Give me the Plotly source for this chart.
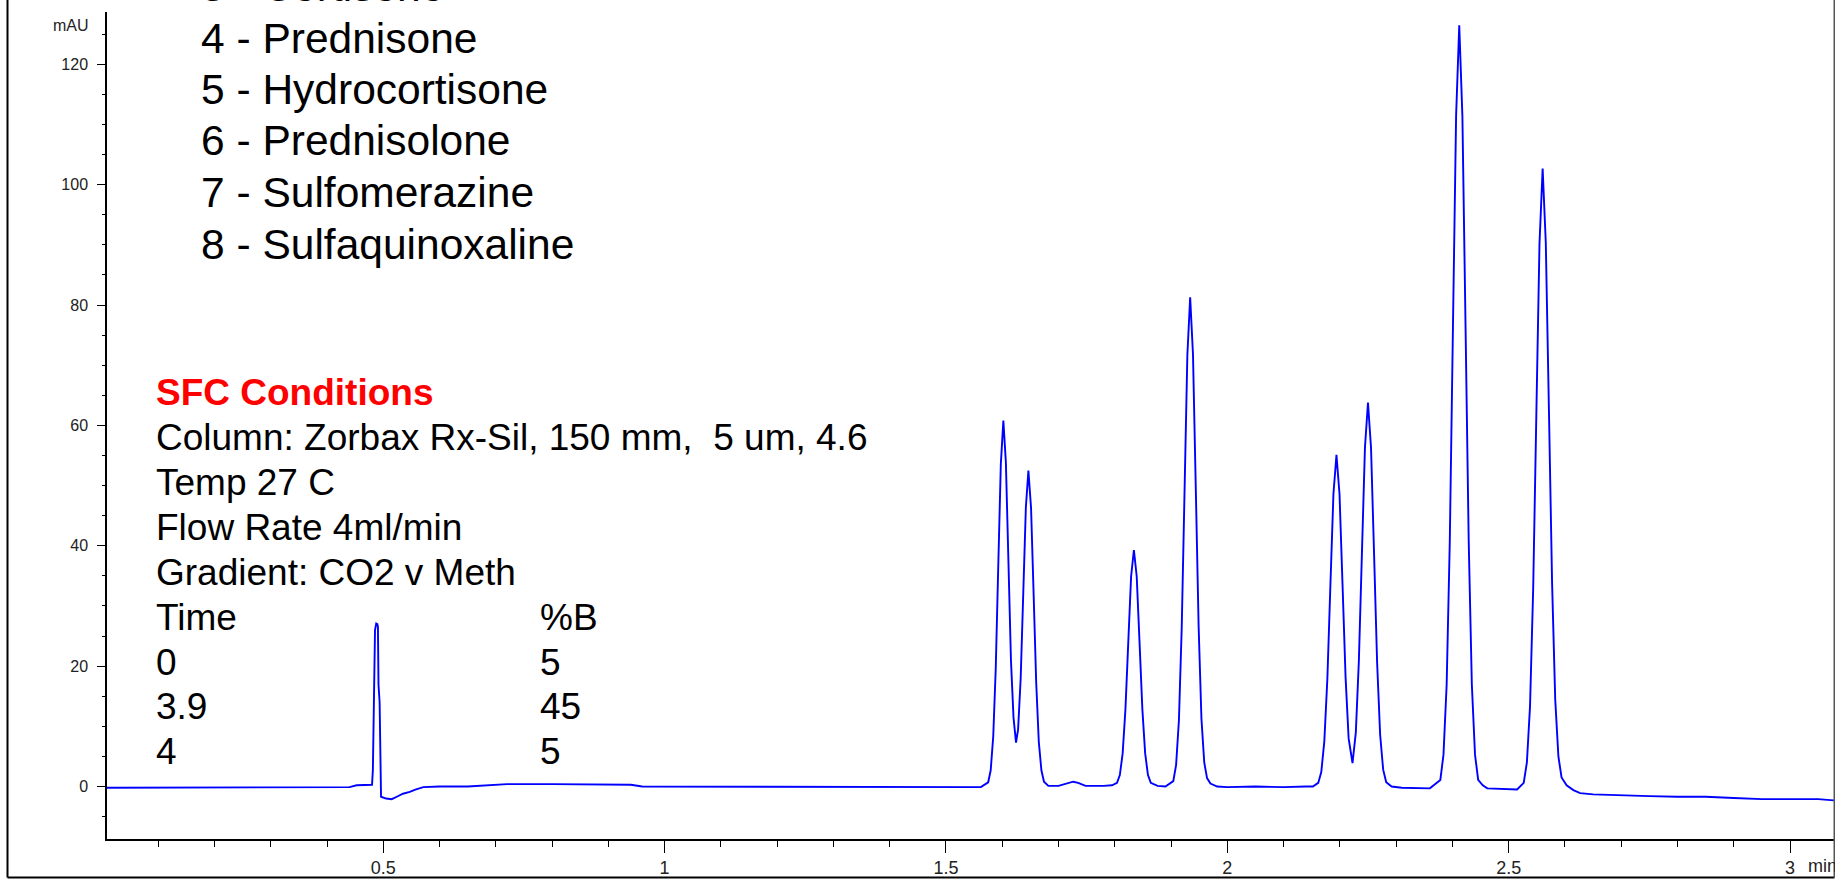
import plotly.graph_objects as go

# ---------------- data ----------------
time_min = [
    0.009, 0.05, 0.10, 0.15, 0.20, 0.25, 0.30, 0.35, 0.40, 0.440, 0.4527, 0.4675, 0.4800,
    0.4815, 0.4853, 0.4875, 0.4895, 0.4905, 0.4915, 0.4935, 0.4948, 0.4960, 0.505, 0.515,
    0.524, 0.535, 0.547, 0.557, 0.571, 0.60, 0.65, 0.70, 0.72, 0.80, 0.90, 0.94, 0.96,
    1.05, 1.15, 1.25, 1.35, 1.45, 1.55, 1.562,
    1.575, 1.5795, 1.584, 1.5885, 1.593, 1.5975, 1.602, 1.6065, 1.611, 1.6155, 1.620,
    1.6245, 1.6282, 1.6328, 1.6374, 1.642, 1.6465, 1.6512, 1.6558, 1.6604, 1.665, 1.6696,
    1.6742, 1.682, 1.700, 1.716, 1.726, 1.735, 1.748, 1.780, 1.795,
    1.804, 1.809, 1.814, 1.819, 1.824, 1.829, 1.834, 1.839, 1.844, 1.849, 1.854, 1.859,
    1.864, 1.876, 1.890,
    1.904, 1.909, 1.914, 1.919, 1.924, 1.929, 1.934, 1.939, 1.944, 1.949, 1.954, 1.959,
    1.964, 1.970, 1.982, 2.00, 2.05, 2.10, 2.14,
    2.152, 2.1616, 2.167, 2.1724, 2.1778, 2.1832, 2.1886, 2.194, 2.1994, 2.2048, 2.2102,
    2.2156, 2.2225, 2.2284, 2.2338, 2.2392, 2.2446, 2.250, 2.2554, 2.2608, 2.2662, 2.2716,
    2.277, 2.2824, 2.292, 2.31, 2.34, 2.36,
    2.3786, 2.3842, 2.3898, 2.3954, 2.401, 2.4066, 2.4122, 2.4178, 2.4234, 2.429, 2.4346,
    2.4402, 2.4458, 2.454, 2.462, 2.48, 2.50, 2.515,
    2.5268, 2.5324, 2.538, 2.5436, 2.5492, 2.5548, 2.5604, 2.566, 2.5716, 2.5772, 2.5828,
    2.5884, 2.594, 2.603, 2.615, 2.627, 2.65, 2.70, 2.75, 2.80, 2.85, 2.90, 2.95, 3.00,
    3.05, 3.078,
]
absorbance_mau = [
    -0.2, -0.2, -0.2, -0.2, -0.2, -0.2, -0.2, -0.2, -0.1, -0.1, 0.2, 0.2, 0.3,
    2.7, 26.0, 27.1, 27.0, 26.5, 16.9, 14.0, 0.0, -1.7, -2.0, -2.1,
    -1.7, -1.2, -0.9, -0.5, -0.1, 0.0, 0.0, 0.2, 0.4, 0.4, 0.3, 0.3, 0.0,
    0.0, 0.0, -0.1, -0.1, -0.1, -0.1, -0.1,
    0.7, 2.7, 8.3, 19.7, 36.9, 53.6, 60.8, 53.8, 37.4, 21.0, 11.5,
    7.3, 9.5, 18.0, 32.2, 46.4, 52.5, 46.3, 31.9, 17.2, 7.4, 2.7,
    0.8, 0.1, 0.1, 0.6, 0.8, 0.6, 0.1, 0.1, 0.2,
    0.6, 1.9, 5.5, 12.9, 24.0, 34.9, 39.3, 34.9, 24.0, 12.9, 5.5, 1.9,
    0.6, 0.1, 0.0,
    0.9, 3.6, 11.0, 26.4, 49.3, 71.7, 81.3, 71.8, 49.5, 26.7, 11.3, 4.0,
    1.4, 0.5, 0.0, -0.1, 0.0, -0.1, 0.0,
    0.0, 0.6, 2.4, 7.5, 17.9, 33.4, 48.6, 55.1, 48.6, 33.5, 18.1,
    8.0, 3.9, 9.0, 20.9, 38.7, 56.3, 63.8, 56.3, 38.7, 20.7, 8.6,
    2.8, 0.7, 0.0, -0.2, -0.3, -0.3,
    1.1, 5.3, 16.9, 40.8, 76.4, 111.4, 126.5, 111.4, 76.4, 40.8, 16.9,
    5.3, 1.1, 0.2, -0.3, -0.4, -0.5, -0.5,
    0.6, 4.0, 13.4, 32.9, 61.8, 90.2, 102.7, 90.4, 62.5, 33.8, 14.4,
    5.0, 1.5, 0.2, -0.6, -1.1, -1.3, -1.5, -1.6, -1.7, -1.7, -1.9, -2.1, -2.1,
    -2.1, -2.3,
]

compound_labels = [
    "3 - Cortisone",
    "4 - Prednisone",
    "5 - Hydrocortisone",
    "6 - Prednisolone",
    "7 - Sulfomerazine",
    "8 - Sulfaquinoxaline",
]
conditions_title = "SFC Conditions"
conditions_lines = [
    "Column: Zorbax Rx-Sil, 150 mm,  5 um, 4.6",
    "Temp 27 C",
    "Flow Rate 4ml/min",
    "Gradient: CO2 v Meth",
]
gradient_time = ["Time", "0", "3.9", "4"]
gradient_pct_b = ["%B", "5", "45", "5"]

y_unit_label = "mAU"
x_unit_label = "min"

# ---------------- layout geometry (pixels) ----------------
W, H = 1835, 879
ML, MR, MT, MB = 107, 1, 12, 40
PL, PR, PT, PB = ML, W - MR, MT, H - MB

FONT = "Liberation Sans, Arial, Helvetica, sans-serif"


def px_x(x):
    return (x - PL) / (PR - PL)


def px_y(y):
    return (PB - y) / (PB - PT)


fig = go.Figure()
fig.add_trace(
    go.Scatter(
        x=time_min,
        y=absorbance_mau,
        mode="lines",
        line=dict(color="#0000FF", width=1.9),
        hoverinfo="skip",
    )
)

annotations = []

# compound list (top); the first line is cut off by the top edge, as in the source
list_x = 199
list_centers = [-14.0, 38.0, 89.5, 141.0, 192.5, 244.0]
for txt, yc in zip(compound_labels, list_centers):
    annotations.append(dict(
        text=txt, x=px_x(list_x), y=px_y(yc),
        xref="paper", yref="paper", xanchor="left", yanchor="middle",
        showarrow=False, font=dict(family=FONT, size=42.5, color="#000000"),
    ))

# SFC conditions block
blk_x, col2_x = 153.5, 537.5
blk_y0, blk_dy = 392.3, 44.95
annotations.append(dict(
    text="<b>" + conditions_title + "</b>", x=px_x(blk_x), y=px_y(blk_y0),
    xref="paper", yref="paper", xanchor="left", yanchor="middle",
    showarrow=False, font=dict(family=FONT, size=37, color="#FF0000"),
))
for i, txt in enumerate(conditions_lines):
    annotations.append(dict(
        text=txt, x=px_x(blk_x), y=px_y(blk_y0 + (i + 1) * blk_dy),
        xref="paper", yref="paper", xanchor="left", yanchor="middle",
        showarrow=False, font=dict(family=FONT, size=37, color="#000000"),
    ))
row0 = len(conditions_lines) + 1
for i, (t_txt, b_txt) in enumerate(zip(gradient_time, gradient_pct_b)):
    yy = px_y(blk_y0 + (row0 + i) * blk_dy)
    annotations.append(dict(
        text=t_txt, x=px_x(blk_x), y=yy, xref="paper", yref="paper",
        xanchor="left", yanchor="middle", showarrow=False,
        font=dict(family=FONT, size=37, color="#000000"),
    ))
    annotations.append(dict(
        text=b_txt, x=px_x(col2_x), y=yy, xref="paper", yref="paper",
        xanchor="left", yanchor="middle", showarrow=False,
        font=dict(family=FONT, size=37, color="#000000"),
    ))

# axis unit labels
annotations.append(dict(
    text=y_unit_label, x=px_x(91), y=px_y(25), xref="paper", yref="paper",
    xanchor="right", yanchor="middle", showarrow=False,
    font=dict(family=FONT, size=16, color="#222222"),
))
annotations.append(dict(
    text=x_unit_label, x=px_x(1806), y=px_y(866), xref="paper", yref="paper",
    xanchor="left", yanchor="middle", showarrow=False,
    font=dict(family=FONT, size=18, color="#222222"),
))

shapes = [
    # outer frame: left, bottom, right
    dict(type="line", xref="paper", yref="paper", x0=px_x(7.5), x1=px_x(7.5),
         y0=px_y(-5), y1=px_y(877.5), line=dict(color="#000000", width=2)),
    dict(type="line", xref="paper", yref="paper", x0=px_x(7.5), x1=px_x(1834.5),
         y0=px_y(877.5), y1=px_y(877.5), line=dict(color="#000000", width=2)),
    dict(type="line", xref="paper", yref="paper", x0=px_x(1834.5), x1=px_x(1834.5),
         y0=px_y(-5), y1=px_y(877.5), line=dict(color="#555555", width=2)),
]

fig.update_layout(
    width=W, height=H,
    margin=dict(l=ML, r=MR, t=MT, b=MB, pad=0),
    paper_bgcolor="white", plot_bgcolor="white",
    showlegend=False,
    annotations=annotations,
    shapes=shapes,
    xaxis=dict(
        range=[0.009, 3.0782], showgrid=False, zeroline=False,
        showline=True, linecolor="#000000", linewidth=1.5,
        ticks="outside", ticklen=12, tickwidth=1.2, tickcolor="#000000",
        tick0=0, dtick=0.5,
        tickfont=dict(family=FONT, size=18, color="#222222"),
        minor=dict(ticks="outside", dtick=0.1, tick0=0, ticklen=6,
                   tickwidth=1.2, tickcolor="#000000", showgrid=False),
        fixedrange=True,
    ),
    yaxis=dict(
        range=[-8.72, 128.70], showgrid=False, zeroline=False,
        showline=True, linecolor="#000000", linewidth=1.5,
        ticks="outside", ticklen=8, tickwidth=1.2, tickcolor="#000000",
        tick0=0, dtick=20, ticklabelstandoff=6,
        tickfont=dict(family=FONT, size=16, color="#222222"),
        minor=dict(ticks="outside", dtick=5, tick0=0, ticklen=3,
                   tickwidth=1.2, tickcolor="#000000", showgrid=False),
        fixedrange=True,
    ),
)

fig.write_html(
    "out.html",
    config={"displayModeBar": False, "responsive": False},
    post_script="document.body.style.margin='0';document.body.style.overflow='hidden';",
)
